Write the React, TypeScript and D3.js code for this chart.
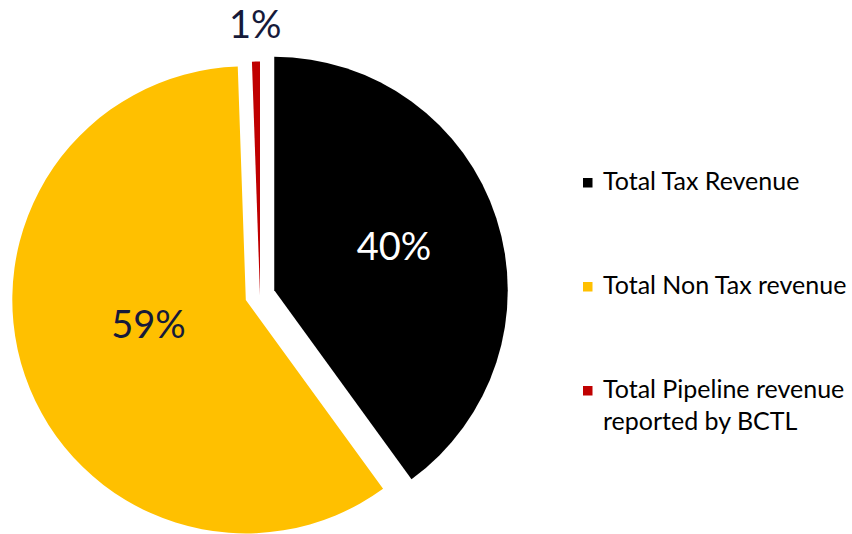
import React from "react";
import * as d3 from "d3";

// ---- data ----
const categories = [
  "Total Tax Revenue",
  "Total Non Tax revenue",
  "Total Pipeline revenue reported by BCTL",
];
const legendLines = [
  ["Total Tax Revenue"],
  ["Total Non Tax revenue"],
  ["Total Pipeline revenue", "reported by BCTL"],
];
const shares = [40.0, 59.45, 0.55];
const shareLabels = ["40%", "59%", "1%"];
const colors = ["#000000", "#FFC000", "#C00000"];

// ---- layout ----
const W = 852;
const H = 534;
const cx = 260;
const cy = 295;
const R = 233.5;
const explodeBy = [15, 15, 0];
const labelFrac = [0.546, 0.43, 1.16];
const labelShiftDeg = [-2, 5, 0];
const labelColors = ["#ffffff", "#161a3a", "#161a3a"];
const FONT = "Lato, 'Open Sans', sans-serif";

export default function App() {
  const pie = d3
    .pie<number>()
    .sort(null)
    .value((d) => d)
    .startAngle(0)
    .endAngle(2 * Math.PI);
  const arcs = pie(shares);
  const arcGen = d3.arc<d3.PieArcDatum<number>>().innerRadius(0).outerRadius(R);

  const legendY = d3.scaleLinear().domain([0, 1]).range([190, 294]);

  return (
    <svg
      width={W}
      height={H}
      viewBox={`0 0 ${W} ${H}`}
      style={{ position: "fixed", left: 0, top: 0, background: "#fff" }}
    >
      <g transform={`translate(${cx},${cy})`}>
        {arcs.map((a, i) => {
          const mid = (a.startAngle + a.endAngle) / 2;
          const ox = Math.sin(mid) * explodeBy[i];
          const oy = -Math.cos(mid) * explodeBy[i];
          return (
            <g key={categories[i]} transform={`translate(${ox},${oy})`}>
              <path d={arcGen(a) || ""} fill={colors[i]} />
            </g>
          );
        })}
        {arcs.map((a, i) => {
          const mid = (a.startAngle + a.endAngle) / 2;
          const ox = Math.sin(mid) * explodeBy[i];
          const oy = -Math.cos(mid) * explodeBy[i];
          const la = mid + (labelShiftDeg[i] * Math.PI) / 180;
          const lr = R * labelFrac[i];
          const lx = ox + Math.sin(la) * lr;
          const ly = oy - Math.cos(la) * lr;
          return (
            <text
              key={"l" + i}
              x={lx}
              y={ly}
              dy="0.36em"
              textAnchor="middle"
              fontFamily={FONT}
              fontSize={38}
              fill={labelColors[i]}
            >
              {shareLabels[i]}
            </text>
          );
        })}
      </g>
      <g>
        {legendLines.map((lines, i) => {
          const y = legendY(i);
          return (
            <g key={"lg" + i}>
              <rect x={583} y={y - 12} width={9.5} height={9.5} fill={colors[i]} />
              {lines.map((t, j) => (
                <text
                  key={j}
                  x={603}
                  y={y + j * 32}
                  fontFamily={FONT}
                  fontSize={25}
                  fill="#000"
                >
                  {t}
                </text>
              ))}
            </g>
          );
        })}
      </g>
    </svg>
  );
}
